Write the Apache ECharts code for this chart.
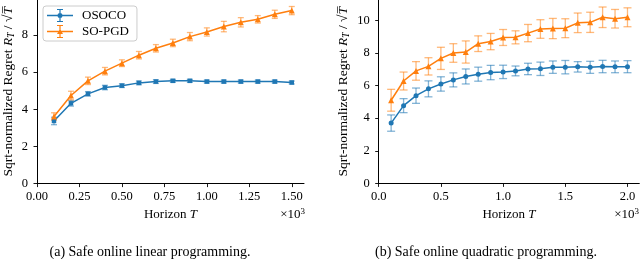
<!DOCTYPE html>
<html><head><meta charset="utf-8">
<script src="https://cdn.jsdelivr.net/npm/echarts@6/dist/echarts.min.js"></script>
<style>html,body{margin:0;padding:0;background:#fff}#c{width:640px;height:259px}</style>
</head><body><div id="c"></div>
<script>
// ---- data ----
const xLin = [0.1,0.2,0.3,0.4,0.5,0.6,0.7,0.8,0.9,1.0,1.1,1.2,1.3,1.4,1.5];
const osocoLin = [3.37,4.32,4.83,5.17,5.27,5.42,5.49,5.53,5.53,5.49,5.49,5.49,5.49,5.49,5.44];
const osocoLinErr = [0.2,0.15,0.12,0.12,0.1,0.1,0.1,0.08,0.08,0.08,0.08,0.08,0.08,0.08,0.08];
const sopgdLin = [3.61,4.74,5.53,6.05,6.48,6.91,7.28,7.57,7.91,8.16,8.45,8.68,8.84,9.11,9.31];
const sopgdLinErr = [0.2,0.23,0.2,0.2,0.18,0.2,0.2,0.2,0.22,0.22,0.28,0.25,0.2,0.22,0.22];

const xQuad = [0.1,0.2,0.3,0.4,0.5,0.6,0.7,0.8,0.9,1.0,1.1,1.2,1.3,1.4,1.5,1.6,1.7,1.8,1.9,2.0];
const osocoQuad = [3.7,4.77,5.38,5.8,6.1,6.35,6.56,6.7,6.8,6.84,6.9,7.02,7.03,7.13,7.13,7.15,7.12,7.17,7.15,7.16];
const osocoQuadErr = [0.5,0.43,0.47,0.49,0.44,0.43,0.46,0.43,0.44,0.41,0.3,0.35,0.41,0.38,0.41,0.32,0.37,0.38,0.36,0.37];
const sopgdQuad = [5.1,6.28,6.9,7.18,7.67,8.0,8.06,8.57,8.7,8.95,8.96,9.22,9.47,9.5,9.52,9.85,9.88,10.19,10.1,10.19];
const sopgdQuadErr = [0.67,0.55,0.57,0.53,0.68,0.57,0.68,0.48,0.5,0.49,0.4,0.53,0.57,0.62,0.58,0.6,0.62,0.63,0.57,0.58];

const xTicksLin = [0,0.25,0.5,0.75,1.0,1.25,1.5];
const xTicksQuad = [0,0.5,1.0,1.5,2.0];
const yTicksLin = [0,2,4,6,8];
const yTicksQuad = [0,2,4,6,8,10];

const names = ['OSOCO','SO-PGD'];
const captions = ['(a) Safe online linear programming.','(b) Safe online quadratic programming.'];
const xTitle = 'Horizon ';

// ---- styling ----
const FONT = 'Liberation Serif';
const BLUE = '#1f77b4', ORANGE = '#ff7f0e';
const txt = {fontFamily: FONT, fontSize: 13, color: '#000'};
const tickTxt = {fontFamily: FONT, fontSize: 12.5, color: '#000'};

function pairs(xs, vs){ return xs.map((x,i)=>[x, vs[i]]); }
function errs(xs, vs, es){ return xs.map((x,i)=>[x, vs[i]-es[i], vs[i]+es[i]]); }
function errRender(capHalf, color){
  return function(params, api){
    const x = api.value(0);
    const p1 = api.coord([x, api.value(1)]);
    const p2 = api.coord([x, api.value(2)]);
    const st = {stroke: color, lineWidth: 1.3, opacity: 0.55};
    return {type:'group', children:[
      {type:'line', shape:{x1:p1[0], y1:p1[1], x2:p2[0], y2:p2[1]}, style: st},
      {type:'line', shape:{x1:p1[0]-capHalf, y1:p1[1], x2:p1[0]+capHalf, y2:p1[1]}, style: st},
      {type:'line', shape:{x1:p2[0]-capHalf, y1:p2[1], x2:p2[0]+capHalf, y2:p2[1]}, style: st}
    ]};
  };
}
function xAxisDef(gi, max, ticks, digits){
  return {type:'value', gridIndex: gi, min: 0, max: max,
    name: '{a|' + xTitle + '}{i|T}', nameLocation:'middle', nameGap: 21,
    nameTextStyle: {rich: {a: Object.assign({}, txt), i: Object.assign({}, txt, {fontStyle:'italic'})}},
    axisLine:{show:true, onZero:false, lineStyle:{color:'#000', width:1}},
    axisTick:{show:true, length:3.5, lineStyle:{color:'#000', width:0.9}, customValues: ticks},
    axisLabel: Object.assign({margin:7, customValues: ticks, formatter: v => v.toFixed(digits)}, tickTxt),
    splitLine:{show:false}};
}
function yAxisDef(gi, max, ticks, gap){
  const yl = Object.assign({}, txt, {fontSize: 13.5});
  return {type:'value', gridIndex: gi, min: 0, max: max,
    name: '{a|Sqrt-normalized Regret }{i|R}{s|T}{a| / √}{i|T\u0305}', nameLocation:'middle', nameGap: gap,
    nameTextStyle: {rich: {
      a: Object.assign({}, yl),
      i: Object.assign({}, yl, {fontStyle:'italic'}),
      s: Object.assign({}, yl, {fontStyle:'italic', fontSize: 9.5, padding:[6,0,0,0]})
    }},
    axisLine:{show:true, onZero:false, lineStyle:{color:'#000', width:1}},
    axisTick:{show:true, length:3.5, lineStyle:{color:'#000', width:0.9}, customValues: ticks},
    axisLabel: Object.assign({margin:9, customValues: ticks}, tickTxt),
    splitLine:{show:false}};
}
function lineSeries(name, gi, data, color, symbol, size){
  return {type:'line', name: name, xAxisIndex: gi, yAxisIndex: gi, data: data, z: 3,
    symbol: symbol, symbolSize: size, showAllSymbol: true,
    lineStyle:{color: color, width: 1.5}, itemStyle:{color: color, borderWidth: 0},
    emphasis:{disabled:true}, animation:false};
}
function errSeries(name, gi, data, color, capHalf){
  return {type:'custom', name: name, xAxisIndex: gi, yAxisIndex: gi, data: data, z: 2,
    itemStyle:{color: color}, renderItem: errRender(capHalf, color), animation:false, silent:true};
}

const iconCircle = 'path://M0 6.25H26V7.75H0Z M12.4 1H13.6V13H12.4Z M10 0.5H16V1.5H10Z M10 12.5H16V13.5H10Z M10.5 7A2.5 2.5 0 1 1 15.5 7A2.5 2.5 0 1 1 10.5 7Z';
const iconTri = 'path://M0 6.25H26V7.75H0Z M12.4 1H13.6V13H12.4Z M10 0.5H16V1.5H10Z M10 12.5H16V13.5H10Z M10 9.6L13 4.2L16 9.6Z';

const chart = echarts.init(document.getElementById('c'), null, {renderer:'canvas'});
chart.setOption({
  backgroundColor:'#fff',
  animation:false,
  grid:[
    {left:36.7, top:0, width:267.3, height:183.6},
    {left:378.7, top:0, width:260.6, height:183.4}
  ],
  xAxis:[xAxisDef(0, 1.572, xTicksLin, 2), xAxisDef(1, 2.095, xTicksQuad, 1)],
  yAxis:[yAxisDef(0, 9.88, yTicksLin, 21), yAxisDef(1, 11.25, yTicksQuad, 27)],
  legend:{left:43, top:6, orient:'vertical', itemWidth:26, itemHeight:14, itemGap:3,
    padding:[3,8,3,4], backgroundColor:'rgba(255,255,255,0.8)', borderColor:'#ccc', borderWidth:1, borderRadius:3,
    textStyle: Object.assign({padding:[0,0,0,4]}, txt), itemStyle:{borderWidth:0},
    data:[{name: names[0], icon: iconCircle, itemStyle:{color: BLUE}}, {name: names[1], icon: iconTri, itemStyle:{color: ORANGE}}],
    selectedMode:false},
  series:[
    errSeries(names[0], 0, errs(xLin, osocoLin, osocoLinErr), BLUE, 3),
    errSeries(names[1], 0, errs(xLin, sopgdLin, sopgdLinErr), ORANGE, 3),
    lineSeries(names[0], 0, pairs(xLin, osocoLin), BLUE, 'rect', 4.5),
    lineSeries(names[1], 0, pairs(xLin, sopgdLin), ORANGE, 'triangle', 6),
    errSeries(names[0], 1, errs(xQuad, osocoQuad, osocoQuadErr), BLUE, 4),
    errSeries(names[1], 1, errs(xQuad, sopgdQuad, sopgdQuadErr), ORANGE, 4),
    lineSeries(names[0], 1, pairs(xQuad, osocoQuad), BLUE, 'circle', 5),
    lineSeries(names[1], 1, pairs(xQuad, sopgdQuad), ORANGE, 'triangle', 6)
  ],
  graphic:[
    {type:'text', right:335, top:207, style:{text:'{a|×10}{b|3}', rich:{a:{fontFamily:FONT, fontSize:13, fill:'#000'}, b:{fontFamily:FONT, fontSize:9, fill:'#000', padding:[0,0,7,0]}}}},
    {type:'text', right:1, top:207, style:{text:'{a|×10}{b|3}', rich:{a:{fontFamily:FONT, fontSize:13, fill:'#000'}, b:{fontFamily:FONT, fontSize:9, fill:'#000', padding:[0,0,7,0]}}}},
    {type:'text', x:150, y:252, style:{text: captions[0], font:'14px "Liberation Serif"', fill:'#000', align:'center', verticalAlign:'middle'}},
    {type:'text', x:486, y:252, style:{text: captions[1], font:'14px "Liberation Serif"', fill:'#000', align:'center', verticalAlign:'middle'}}
  ]
});
</script></body></html>
